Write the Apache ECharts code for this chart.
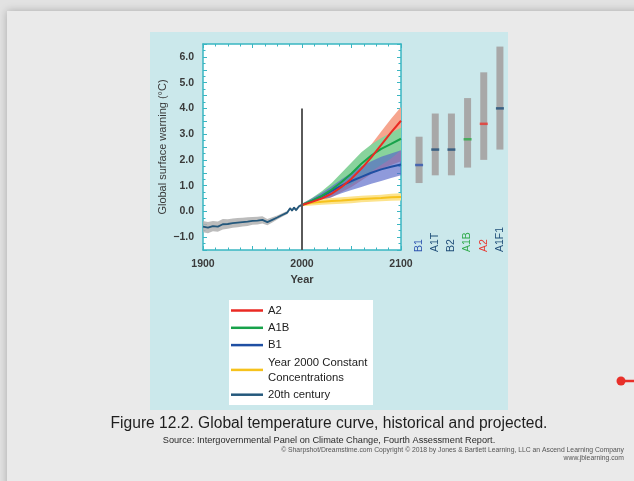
<!DOCTYPE html>
<html>
<head>
<meta charset="utf-8">
<style>
  html, body { margin: 0; padding: 0; background: #e2e2e2; }
  #chart { width: 634px; height: 481px; }
</style>
<script src="https://cdn.jsdelivr.net/npm/echarts@6/dist/echarts.min.js"></script>
</head>
<body>
<div id="chart"></div>
<script>
// observed 20th century record
const histYears = [1900, 1905, 1910, 1915, 1920, 1925, 1930, 1935, 1940, 1945, 1950, 1955, 1960, 1965, 1970, 1975, 1980, 1985, 1988, 1990, 1992, 1994, 1997, 2000]
const histMean = [-0.59, -0.63, -0.57, -0.59, -0.5, -0.49, -0.46, -0.44, -0.42, -0.4, -0.37, -0.36, -0.33, -0.42, -0.33, -0.24, -0.14, -0.05, 0.12, 0.03, 0.15, 0.05, 0.2, 0.25]
const histSpread = [0.22, 0.22, 0.2, 0.2, 0.2, 0.18, 0.18, 0.18, 0.17, 0.17, 0.15, 0.15, 0.14, 0.12, 0.1, 0.08, 0.07, 0.06, 0.05, 0.05, 0.05, 0.05, 0.05, 0.05]

// projections
const projYears = [2000, 2010, 2020, 2030, 2040, 2050, 2060, 2070, 2080, 2090, 2100]
const a2Mean = [0.25, 0.37, 0.5, 0.69, 0.95, 1.27, 1.66, 2.1, 2.58, 3.07, 3.52]
const a2Low = [0.2, 0.3, 0.4, 0.55, 0.75, 0.95, 1.2, 1.45, 1.65, 1.8, 1.95]
const a2High = [0.3, 0.45, 0.65, 0.9, 1.25, 1.65, 2.1, 2.6, 3.1, 3.6, 4.05]
const a1bMean = [0.25, 0.42, 0.6, 0.85, 1.14, 1.47, 1.85, 2.17, 2.43, 2.62, 2.82]
const a1bLow = [0.2, 0.33, 0.47, 0.65, 0.85, 1.05, 1.3, 1.55, 1.8, 2.05, 2.37]
const a1bHigh = [0.3, 0.52, 0.78, 1.1, 1.5, 1.9, 2.3, 2.6, 2.85, 3.05, 3.25]
const b1Mean = [0.25, 0.4, 0.58, 0.8, 1.0, 1.18, 1.34, 1.5, 1.63, 1.73, 1.82]
const b1Low = [0.2, 0.3, 0.42, 0.56, 0.7, 0.83, 0.95, 1.07, 1.18, 1.3, 1.4]
const b1High = [0.3, 0.5, 0.72, 0.98, 1.25, 1.5, 1.75, 1.95, 2.12, 2.25, 2.37]
const constMean = [0.25, 0.33, 0.37, 0.4, 0.42, 0.45, 0.48, 0.5, 0.52, 0.55, 0.56]
const constLow = [0.2, 0.23, 0.26, 0.28, 0.3, 0.32, 0.35, 0.37, 0.39, 0.41, 0.42]
const constHigh = [0.3, 0.43, 0.48, 0.52, 0.55, 0.58, 0.61, 0.63, 0.65, 0.68, 0.7]

const dividerLine = [[2000, -1.5], [2000, 4.0]]

// likely ranges at 2090-2099
const scenarios = ['B1', 'A1T', 'B2', 'A1B', 'A2', 'A1F1']
const rangeLow = [1.1, 1.4, 1.4, 1.7, 2.0, 2.4]
const rangeHigh = [2.9, 3.8, 3.8, 4.4, 5.4, 6.4]
const bestEstimate = [1.8, 2.4, 2.4, 2.8, 3.4, 4.0]
const scenarioColors = ['#2f55b0', '#1f4d78', '#1f4d78', '#2faa4a', '#e8362f', '#1f4d78']

const FONT = 'Liberation Sans, Arial, sans-serif'
const CYAN = '#3ab6c2'

const chart = echarts.init(document.getElementById('chart'))

// shaded uncertainty band drawn as one polygon through the axis scales
function band(name, x, low, high, color, opacity) {
  return {
    name, type: 'custom', xAxisIndex: 0, yAxisIndex: 0, silent: true,
    data: [[x[0], low[0]]],
    clip: true,
    renderItem(params, api) {
      const top = x.map((v, i) => api.coord([v, high[i]]))
      const bottom = x.map((v, i) => api.coord([v, low[i]])).reverse()
      return {
        type: 'polygon',
        shape: { points: top.concat(bottom) },
        style: { fill: color, opacity }
      }
    }
  }
}

function line(name, x, y, color, width) {
  return {
    name, type: 'line', xAxisIndex: 0, yAxisIndex: 0,
    data: x.map((v, i) => [v, y[i]]),
    symbol: 'none',
    itemStyle: { color },
    lineStyle: { color, width }
  }
}

const tickStyle = { show: true, inside: true, length: 4, lineStyle: { color: CYAN, width: 1 } }
const minorStyle = { show: true, length: 2.5, lineStyle: { color: CYAN, width: 1 } }
const axisLine = { show: true, onZero: false, lineStyle: { color: CYAN, width: 1.5 } }

const option = {
  backgroundColor: '#e2e2e2',
  animation: false,
  textStyle: { fontFamily: FONT },
  graphic: [
    {
      type: 'rect', shape: { x: 7, y: 11, width: 640, height: 480 },
      style: { fill: '#eaeaea', shadowBlur: 8, shadowColor: 'rgba(0,0,0,0.25)' }, z: -10
    },
    { type: 'rect', shape: { x: 150, y: 32, width: 358, height: 378 }, style: { fill: '#cbe8eb' }, z: -9 },
    { type: 'rect', shape: { x: 203, y: 44, width: 198, height: 206 }, style: { fill: '#ffffff' }, z: -8 },
    { type: 'rect', shape: { x: 229, y: 300, width: 144, height: 105 }, style: { fill: '#ffffff' }, z: -8 },
    { type: 'circle', shape: { cx: 621, cy: 381, r: 4.5 }, style: { fill: '#e8302a' } },
    { type: 'line', shape: { x1: 621, y1: 381, x2: 634, y2: 381 }, style: { stroke: '#e8302a', lineWidth: 2.5 } }
  ],
  title: [
    {
      text: 'Figure 12.2. Global temperature curve, historical and projected.',
      subtext: 'Source: Intergovernmental Panel on Climate Change, Fourth Assessment Report.',
      left: 329, top: 416, textAlign: 'center', padding: 0, itemGap: 4,
      textStyle: { fontFamily: FONT, fontSize: 15.6, fontWeight: 'normal', color: '#1e1e1e' },
      subtextStyle: { fontFamily: FONT, fontSize: 9.2, color: '#2a2a2a' }
    },
    {
      text: '© Sharpshot/Dreamstime.com Copyright © 2018 by Jones & Bartlett Learning, LLC an Ascend Learning Company\nwww.jblearning.com',
      left: 624, top: 446, textAlign: 'right', padding: 0,
      textStyle: { fontFamily: FONT, fontSize: 6.8, lineHeight: 8, fontWeight: 'normal', color: '#555', align: 'right' }
    }
  ],
  legend: {
    data: ['A2', 'A1B', 'B1', 'Year 2000 Constant\nConcentrations', '20th century'],
    orient: 'vertical', left: 231, top: 303, padding: 0,
    icon: 'rect', itemWidth: 32, itemHeight: 2.5, itemGap: 2.3,
    selectedMode: false,
    textStyle: { fontFamily: FONT, fontSize: 11.3, lineHeight: 15, color: '#222' }
  },
  grid: [
    { left: 203, top: 44, width: 198, height: 206 },
    { left: 411, top: 44, width: 97, height: 206 }
  ],
  xAxis: [
    {
      type: 'value', gridIndex: 0, min: 1900, max: 2100, interval: 50,
      name: 'Year', nameLocation: 'middle', nameGap: 24,
      nameTextStyle: { fontFamily: FONT, fontSize: 11, fontWeight: 'bold', color: '#3a3a3a' },
      axisLine, axisTick: tickStyle, minorTick: { ...minorStyle, splitNumber: 4 },
      splitLine: { show: false },
      axisLabel: {
        margin: 9, fontFamily: FONT, fontSize: 10.5, fontWeight: 'bold', color: '#3a3a3a',
        formatter: v => (v % 100 === 0 ? String(v) : '')
      }
    },
    {
      type: 'value', gridIndex: 0, position: 'top', min: 1900, max: 2100, interval: 50,
      axisLine, axisTick: tickStyle, minorTick: { ...minorStyle, splitNumber: 4 },
      splitLine: { show: false }, axisLabel: { show: false }
    },
    {
      type: 'category', gridIndex: 1, data: scenarios,
      axisLine: { show: false }, axisTick: { show: false },
      axisLabel: {
        interval: 0, rotate: 90, align: 'left', verticalAlign: 'middle', margin: 2,
        fontFamily: FONT, fontSize: 10.5,
        color: (val, idx) => scenarioColors[idx]
      }
    }
  ],
  yAxis: [
    {
      type: 'value', gridIndex: 0, min: -1.5, max: 6.5, interval: 0.5,
      name: 'Global surface warning (°C)', nameLocation: 'middle', nameGap: 35,
      nameTextStyle: { fontFamily: FONT, fontSize: 11, color: '#3a3a3a' },
      axisLine, axisTick: tickStyle, minorTick: { ...minorStyle, splitNumber: 2 },
      splitLine: { show: false },
      axisLabel: {
        margin: 9, fontFamily: FONT, fontSize: 10.5, fontWeight: 'bold', color: '#3a3a3a',
        formatter: v => (Number.isInteger(v) ? v.toFixed(1).replace('-', '\u2212') : '')
      }
    },
    {
      type: 'value', gridIndex: 0, position: 'right', min: -1.5, max: 6.5, interval: 0.5,
      axisLine, axisTick: tickStyle, minorTick: { ...minorStyle, splitNumber: 2 },
      splitLine: { show: false }, axisLabel: { show: false }
    },
    {
      type: 'value', gridIndex: 1, min: -1.5, max: 6.5, interval: 0.5,
      show: false, splitLine: { show: false }
    }
  ],
  series: [
    band('hist', histYears, histMean.map((m, i) => m - histSpread[i]), histMean.map((m, i) => m + histSpread[i]), '#b0b0b0', 0.85),
    band('a2', projYears, a2Low, a2High, '#f6a58e', 1),
    band('a1b', projYears, a1bLow, a1bHigh, '#88d39c', 1),
    band('b1', projYears, b1Low, b1High, '#5566c9', 0.66),
    band('const', projYears, constLow, constHigh, '#fce38c', 1),
    line('20th century', histYears, histMean, '#24587c', 1.8),
    line('Year 2000 Constant\nConcentrations', projYears, constMean, '#f6c21c', 2),
    line('B1', projYears, b1Mean, '#1f4fa3', 2),
    line('A1B', projYears, a1bMean, '#17a24a', 2),
    line('A2', projYears, a2Mean, '#ea2a23', 2),
    {
      name: 'divider', type: 'line', xAxisIndex: 0, yAxisIndex: 0, data: dividerLine,
      symbol: 'none', lineStyle: { color: '#5a5a5a', width: 2 }, silent: true
    },
    {
      name: 'range-base', type: 'bar', stack: 'range', xAxisIndex: 2, yAxisIndex: 2,
      data: rangeLow, barWidth: 7, itemStyle: { color: 'transparent' }, silent: true
    },
    {
      name: 'range', type: 'bar', stack: 'range', xAxisIndex: 2, yAxisIndex: 2,
      data: rangeHigh.map((h, i) => +(h - rangeLow[i]).toFixed(2)), barWidth: 7,
      itemStyle: { color: '#a8a8a8' }, silent: true
    },
    {
      name: 'best', type: 'scatter', xAxisIndex: 2, yAxisIndex: 2,
      symbol: 'rect', symbolSize: [8, 2.5], z: 5,
      data: bestEstimate.map((v, i) => ({ value: v, itemStyle: { color: scenarioColors[i] } }))
    }
  ]
}

chart.setOption(option)
</script>
</body>
</html>
